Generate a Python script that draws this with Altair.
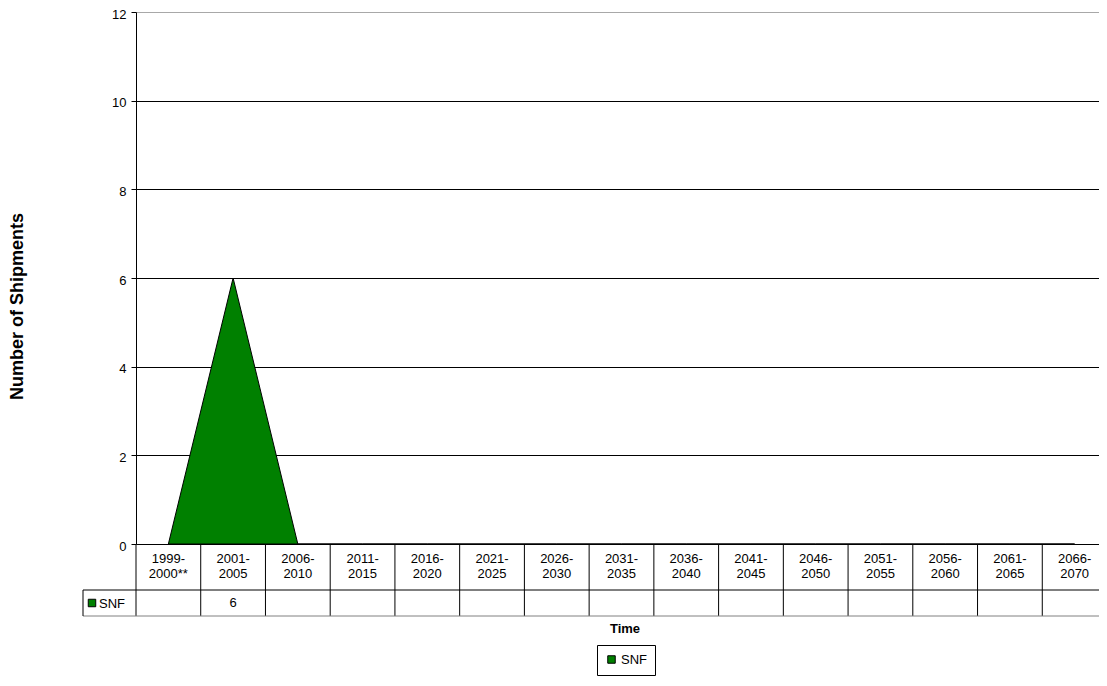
import altair as alt
import pandas as pd

categories = ["1999-2000**", "2001-2005", "2006-2010", "2011-2015", "2016-2020",
              "2021-2025", "2026-2030", "2031-2035", "2036-2040", "2041-2045",
              "2046-2050", "2051-2055", "2056-2060", "2061-2065", "2066-2070"]
snf_values = [0, 6, 0, 0, 0, 0, 0, 0, 0, 0, 0, 0, 0, 0, 0]
y_ticks = [0, 2, 4, 6, 8, 10, 12]
series_name = "SNF"
y_title = "Number of Shipments"
x_title = "Time"

FONT = "Liberation Sans"
GREEN = "#008000"
COL_W = 971 / 15          # width of one category column in px
W, H = 963, 532           # visible plot area (right edge clipped by the page)

n = len(categories)
df = pd.DataFrame({
    "idx": list(range(n)),
    "cat": categories,
    "value": snf_values,
    "series": [series_name] * n,
})
df["label"] = [c.split("-", 1)[0] + "-\n" + c.split("-", 1)[1] for c in categories]
df["shown"] = [str(v) if v else "" for v in snf_values]
bounds = pd.DataFrame({"b": [i - 0.5 for i in range(n)]})
single = pd.DataFrame({"series": [series_name], "title": [x_title]})

xscale = alt.Scale(domain=[-0.5, -0.5 + W / COL_W], nice=False, zero=False)


def X(f):
    return alt.X(f, type="quantitative", scale=xscale, axis=None)


area = alt.Chart(df).mark_area(stroke="black", strokeWidth=1, opacity=1,
                               fillOpacity=1, clip=True).encode(
    x=X("idx"),
    y=alt.Y("value:Q",
            scale=alt.Scale(domain=[0, 12], nice=False),
            axis=alt.Axis(values=y_ticks, title=y_title, grid=True,
                          gridColor={"condition": {"test": "datum.value === 12", "value": "#a8a8a8"},
                                     "value": "black"},
                          gridWidth=1, domainColor="black", tickColor="black",
                          tickSize=5, labelPadding=5, labelFontSize=13, labelOffset=2,
                          labelFont=FONT, labelColor="black",
                          titleFont=FONT, titleFontSize=18, titleFontWeight="bold",
                          titleColor="black", titleAngle=-90, titleX=-119, titleY=294,
                          titleAlign="center", titleBaseline="middle")),
    color=alt.Color("series:N",
                    scale=alt.Scale(domain=[series_name], range=[GREEN]),
                    legend=alt.Legend(title=None, orient="none", legendX=461, legendY=633,
                                      strokeColor="black", padding=8, symbolType="square",
                                      symbolSize=56, symbolStrokeColor="black",
                                      symbolStrokeWidth=1, symbolFillColor=GREEN,
                                      labelFont=FONT, labelFontSize=13, labelColor="black",
                                      labelOffset=3, fillColor="white",
                                      cornerRadius=0)),
)

vlines = alt.Chart(bounds).mark_rule(color="black", strokeWidth=1).encode(
    x=X("b"), y=alt.value(H), y2=alt.value(604))

hline1 = alt.Chart(single).mark_rule(color="black", strokeWidth=1).encode(
    x=alt.value(-53), x2=alt.value(W), y=alt.value(578))
hline2 = alt.Chart(single).mark_rule(color="#808080", strokeWidth=1).encode(
    x=alt.value(-53), x2=alt.value(W), y=alt.value(604))
lborder = alt.Chart(single).mark_rule(color="black", strokeWidth=1).encode(
    x=alt.value(-53), y=alt.value(578), y2=alt.value(604))

header = alt.Chart(df).mark_text(lineBreak="\n", font=FONT, fontSize=13, lineHeight=15,
                                 baseline="middle", align="center", color="black").encode(
    x=X("idx"), y=alt.value(547), text="label:N")

row_vals = alt.Chart(df).mark_text(font=FONT, fontSize=13, baseline="middle",
                                   align="center", color="black").encode(
    x=X("idx"), y=alt.value(591), text="shown:N")

row_swatch = alt.Chart(single).mark_square(size=56, fill=GREEN, stroke="black",
                                           strokeWidth=1, opacity=1).encode(
    x=alt.value(-44), y=alt.value(591))
row_label = alt.Chart(single).mark_text(font=FONT, fontSize=13, baseline="middle",
                                        align="left", color="black").encode(
    x=alt.value(-37), y=alt.value(592), text="series:N")

time_title = alt.Chart(single).mark_text(font=FONT, fontSize=13, fontWeight="bold",
                                         baseline="middle", align="center",
                                         color="black").encode(
    x=alt.value(489), y=alt.value(617), text="title:N")

chart = alt.layer(area, vlines, hline1, hline2, lborder, header, row_vals,
                  row_swatch, row_label, time_title).properties(
    width=W, height=H,
    autosize=alt.AutoSizeParams(type="none"),
    padding={"left": 128, "top": 4, "right": 0, "bottom": 132},
    background="white",
).configure_view(stroke=None)

chart.save("out.html", embed_options={"renderer": "svg", "actions": False})
